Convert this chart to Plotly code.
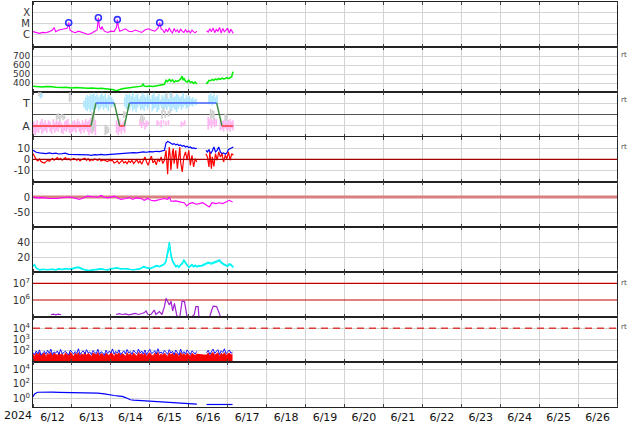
import pandas as pd
import plotly.graph_objects as go
from plotly.subplots import make_subplots

T0 = pd.Timestamp("2024-06-12 00:00")
T_END = pd.Timestamp("2024-06-27 00:00")

# ---------------- data (hours since 2024-06-12 00:00 UT) ----------------
# 1. X-ray flux (W/m2)
xray_h = [0, 2, 3.9, 6, 8, 10, 12, 13, 14, 16, 18, 20, 21, 22, 22.8, 24, 26, 28, 30, 32, 34, 36, 38, 39.5,
          40.3, 41, 42, 42.5, 43, 44, 46, 48, 50, 51.5, 52, 52.6, 53.5, 55, 57, 59, 61, 63, 65, 67, 69, 71,
          73, 75, 77, 78.1, 79,
          80, 81, 82, 83, 84, 85, 86, 87, 88, 89, 90, 91, 92, 93, 94, 95, 96, 97, 98, 99, 100, 101,
          104,
          107, 108, 109, 110, 111, 112, 113, 114, 115, 116, 117, 118, 119, 120, 121, 122, 123, 123.5]
xray_flux = [2.0e-6, 1.8e-6, 1.4e-6, 1.7e-6, 1.6e-6, 2.0e-6, 2.8e-6, 4.7e-6, 2.0e-6, 2.8e-6, 3.2e-6, 3.6e-6,
             4.0e-6, 1.3e-5, 2.8e-6, 2.0e-6, 1.6e-6, 2.2e-6, 1.7e-6, 1.4e-6, 1.1e-6, 1.4e-6, 2.0e-6, 2.8e-6,
             3.7e-5, 5.0e-6, 3.2e-6, 6.0e-6, 3.6e-6, 2.2e-6, 1.7e-6, 2.2e-6, 2.0e-6, 5.0e-6, 2.5e-5, 6.0e-6,
             2.2e-6, 2.8e-6, 3.6e-6, 2.2e-6, 2.0e-6, 2.8e-6, 2.0e-6, 1.7e-6, 2.8e-6, 3.6e-6, 2.8e-6, 2.2e-6,
             4.0e-6, 1.3e-5, 3.6e-6,
             2.8e-6, 1.6e-6, 3.4e-6, 1.9e-6, 4.2e-6, 2.2e-6, 1.5e-6, 3.8e-6, 2.0e-6, 2.9e-6, 1.6e-6, 3.5e-6,
             2.1e-6, 1.7e-6, 3.0e-6, 1.8e-6, 2.5e-6, 1.5e-6, 2.7e-6, 1.9e-6, 1.6e-6, 2.2e-6,
             None,
             2.4e-6, 1.8e-6, 3.6e-6, 2.0e-6, 4.4e-6, 1.6e-6, 3.1e-6, 2.2e-6, 4.8e-6, 1.5e-6, 3.9e-6, 1.9e-6,
             2.8e-6, 4.2e-6, 1.5e-6, 3.3e-6, 1.8e-6, 1.4e-6]
flare_h = [22.0, 40.3, 52.0, 78.1]
flare_flux = [1.3e-5, 3.7e-5, 2.5e-5, 1.3e-5]
xray_ticks = [1e-6, 1e-5, 1e-4]
xray_labels = ["C", "M", "X"]

# 2. Solar wind speed (km/s)
speed_h = [0, 2, 4, 6, 8, 10, 12, 14, 16, 18, 20, 22, 24, 26, 28, 30, 32, 34, 36, 38, 40, 42, 44, 46, 48, 50,
           51, 52, 53, 55, 57, 59, 61, 63, 65, 67, 68, 68.5, 70, 72, 74, 76, 78, 80,
           81, 82, 83, 84, 85, 86, 87, 88, 89, 90, 91, 92, 92.5, 93, 94, 95, 96, 97, 98, 99, 100, 101,
           104, 106.6, 107.5, 108.5, 109.5, 110.5, 111.5, 112.5, 113.5, 114.5, 115.5, 116.5, 117.5, 118.5,
           119.5, 120.5, 121.5, 122.5, 123, 123.5]
speed_v = [365, 360, 358, 355, 360, 362, 357, 352, 355, 350, 352, 348, 345, 350, 347, 352, 345, 342, 344, 340,
           338, 342, 336, 333, 330, 325, 312, 318, 328, 335, 342, 348, 352, 356, 360, 365, 392, 365, 360, 366,
           362, 370, 372, 378, 385, 430, 415, 440, 420, 435, 410, 425, 418, 430, 445, 475, 430, 455, 420, 410,
           430, 405, 415, 395, 410, 390, None, 395, 400, 430, 425, 440, 430, 445, 435, 450, 440, 455, 445, 450,
           460, 448, 462, 470, 510, 525]
speed_ticks = [400, 500, 600, 700]

# 3. IMF sector (T = +1, A = -1)
sector_h = [0, 35.7, 38.8, 50.1, 53.4, 56.3, 59.4, 113.2, 116.5, 123.4]
sector_v = [-1, -1, 1, 1, -1, -1, 1, 1, -1, -1]
toward_h = [4.5, 5.5, 31.5, 32.5, 33.5, 34.5, 35.5, 36.5, 37.5, 38.5, 39.5, 40.5, 41.5, 42.5, 43.5, 44.5, 45.5,
            46.5, 47.5, 48.5, 49.5, 56.5, 57.5, 58.5,
            59.5, 60.5, 61.5, 62.5, 63.5, 64.5, 65.5, 66.5, 67.5, 68.5, 69.5, 70.5, 71.5, 72.5, 73.5, 74.5, 75.5,
            76.5, 77.5, 78.5, 79.5, 80.5, 81.5, 82.5, 83.5, 84.5, 85.5, 86.5, 87.5, 88.5, 89.5, 90.5, 91.5, 92.5,
            93.5, 94.5, 95.5, 96.5, 97.5, 98.5, 99.5, 100.5,
            108.5, 109.5, 110.5, 111.5, 112.5, 113.5]
toward_lo = [1.4, 1.5, 0.6, 0.4, 0.3, 0.5, 0.2, 0.4, 0.3, 0.5, 0.6, 0.3, 0.5, 0.7, 0.4, 0.6, 0.5, 0.3, 0.8, 0.6,
             0.7, 0.7, 0.5, 0.4,
             0.4, 0.7, 0.3, 0.5, 0.2, 0.6, 0.8, 0.4, 0.5, 0.3, 0.7, 0.4, 0.6, 0.9, 0.3, 0.5, 0.6, 0.2, 0.4, 0.8,
             0.5, 0.3, 0.6, 0.4, 0.7, 0.5, 0.3, 0.6, 0.4, 0.2, 0.5, 0.7, 0.4, 0.6, 0.8, 0.5, 0.6, 0.7, 0.8, 0.7,
             0.9, 0.8,
             0.9, 1.0, 0.8, 1.1, 0.9, 1.0]
toward_hi = [1.8, 1.9, 1.2, 1.5, 1.7, 1.6, 1.8, 1.7, 1.9, 1.6, 1.8, 1.5, 1.7, 1.9, 1.6, 1.8, 1.4, 1.7, 1.6, 1.5,
             1.3, 1.5, 1.8, 1.7,
             1.8, 1.6, 1.9, 1.5, 1.7, 1.8, 1.4, 1.6, 1.9, 1.7, 1.5, 1.8, 1.6, 1.4, 1.7, 1.9, 1.5, 1.6, 1.8, 1.3,
             1.7, 1.5, 1.8, 1.6, 1.4, 1.9, 1.7, 1.5, 1.6, 1.8, 1.7, 1.5, 1.6, 1.9, 1.4, 1.7, 1.5, 1.6, 1.4, 1.5,
             1.3, 1.4,
             1.7, 1.9, 1.6, 1.8, 1.5, 1.7]
away_h = [0.5, 1.5, 2.5, 3.5, 4.5, 5.5, 6.5, 7.5, 8.5, 9.5, 10.5, 11.5, 12.5, 13.5, 14.5, 15.5, 16.5, 17.5,
          18.5, 19.5, 20.5, 21.5, 22.5, 23.5, 24.5, 25.5, 26.5, 27.5, 28.5, 29.5, 30.5, 31.5, 32.5, 33.5, 34.5,
          35.5, 36.5, 37.5, 38.5,
          51.5, 52.5, 53.5, 54.5, 55.5, 56.5,
          66, 67, 68, 69, 70, 71,
          76.5, 77.5, 79, 80.5, 82, 83.5,
          91.5, 92.5, 93.5,
          108, 109, 110, 111, 112, 113,
          115.5, 116.5, 117.5, 118.5, 119.5, 120.5, 121.5, 122.5, 123.3]
away_lo = [-1.7, -1.8, -1.5, -1.6, -1.3, -1.7, -1.5, -1.4, -1.6, -1.2, -1.5, -1.7, -1.3, -1.6, -1.4, -1.5, -1.2,
           -1.6, -1.7, -1.4, -1.5, -1.3, -1.6, -1.7, -1.5, -1.4, -1.6, -1.2, -1.5, -1.7, -1.4, -1.6, -1.3, -1.5,
           -1.8, -1.6, -1.7, -1.5, -1.8,
           -1.6, -1.8, -1.5, -1.7, -1.4, -1.6,
           -1.0, -1.2, -0.9, -1.3, -1.1, -0.9,
           -1.0, -0.9, -1.1, -0.8, -1.0, -0.9,
           -1.1, -1.0, -0.9,
           -1.3, -1.0, -1.2, -0.9, -1.1, -1.0,
           -1.4, -1.3, -1.5, -1.2, -1.4, -1.3, -1.5, -1.2, -1.4]
away_hi = [-0.6, -0.8, -0.5, -0.9, -0.6, -0.4, -0.7, -0.5, -0.8, -0.5, -0.6, -0.9, -0.4, -0.7, -0.5, -0.6, -0.3,
           -0.7, -0.9, -0.6, -0.5, -0.4, -0.8, -0.9, -0.6, -0.5, -0.7, -0.4, -0.6, -0.8, -0.5, -0.7, -0.4, -0.6,
           -0.5, -0.3, -0.6, -0.4, -0.5,
           -0.5, -0.7, -0.4, -0.8, -0.6, -0.5,
           -0.4, -0.6, -0.5, -0.7, -0.5, -0.6,
           -0.5, -0.6, -0.5, -0.5, -0.6, -0.5,
           -0.6, -0.7, -0.5,
           -0.2, -0.4, -0.3, -0.5, -0.3, -0.4,
           -0.4, -0.6, -0.5, -0.4, -0.7, -0.5, -0.4, -0.6, -0.5]
mixed_h = [3.5, 4.5, 14.5, 15.5, 16.5, 17.5, 18.5, 19.5, 22.5, 23.5, 36.5, 37.5, 44.5, 45.5, 46.5, 56, 57,
           66.5, 67.5, 68.5, 79.5, 80.5, 81.5, 82.5, 83.5, 84.5, 85.5, 109.5, 110.5, 111.5, 118.5, 119.5]
mixed_lo = [1.6, 1.7, -0.5, -0.4, -0.6, -0.3, -0.5, -0.4, 1.1, 1.2, -1.6, -1.4, -1.8, -1.7, -1.6, -0.3, -0.2,
            -0.6, -0.7, -0.5, -0.4, 0.2, -0.3, 1.4, -0.2, 0.1, 1.5, -0.4, -0.3, -0.5, -0.5, -0.6]
mixed_hi = [1.95, 1.95, 0.0, 0.1, -0.1, 0.05, 0.0, -0.1, 1.9, 1.95, 0.2, 0.3, -0.9, -1.0, -1.1, 0.3, 0.2,
            -0.1, 0.0, -0.2, 0.4, 0.6, 0.3, 1.9, 0.3, 0.5, 1.9, 0.5, 0.4, 0.3, 0.1, 0.0]

# 4. IMF Bt / Bz (nT)
bt_h = [0, 1, 2, 4, 6, 8, 10, 12, 14, 16, 18, 20, 22, 24, 26, 28, 30, 32, 34, 36, 38, 40, 42, 44, 46, 48, 50, 52,
        54, 56, 58, 60, 62, 64, 66, 68, 70, 72, 74, 76, 78, 80, 81, 82, 83, 84, 85, 86, 87, 88, 89, 90, 91, 92,
        93, 94, 95, 96, 97, 98, 99, 100, 101, 104, 106.6, 107.5, 108.5, 109.5, 110.5, 111.5, 112.5, 113.5,
        114.5, 115.5, 116.5, 117.5, 118.5, 119.5, 120.5, 121.5, 122.5, 123.5]
bt_v = [8.3, 7.1, 6.5, 5.9, 5.2, 5.2, 5.9, 5.2, 5.6, 4.9, 5.2, 5.6, 4.6, 4.6, 4.3, 4.6, 4.0, 4.3, 4.0, 3.7, 4.3,
        4.0, 4.6, 4.0, 4.3, 4.6, 4.9, 5.2, 4.9, 5.6, 5.9, 5.9, 6.2, 5.9, 6.5, 6.8, 6.5, 7.1, 6.8, 7.4, 7.1, 7.7,
        8.3, 15.1, 16.4, 15.7, 14.5, 13.9, 14.5, 13.3, 13.9, 12.7, 13.3, 12.0, 12.7, 11.4, 12.0, 10.8, 11.4,
        10.2, 10.5, 9.9, 10.2, None, 8.3, 6.8, 9.0, 5.2, 7.7, 11.4, 6.8, 8.3, 11.4, 6.8, 5.2, 5.9, 4.6, 5.9,
        9.0, 9.9, 10.8, 11.4]
bz_h = [0, 1, 2, 3, 4, 5, 6, 7, 8, 9, 10, 11, 12, 13, 14, 15, 16, 17, 18, 19, 20, 21, 22, 23, 24,
        25, 26, 27, 28, 29, 30, 31, 32, 33, 34, 35, 36, 37, 38, 39, 40, 41, 42, 43, 44, 45, 46, 47, 48, 49,
        50, 51, 52, 53, 54, 55, 56, 57, 58, 59, 60, 61, 62, 63, 64, 65, 66, 67, 68, 69, 70, 71, 72, 73, 74,
        75, 76, 77, 78, 79, 80, 81,
        82, 83, 83.5, 84, 84.5, 85, 86, 86.5, 87, 88, 89, 90, 90.5, 91, 92, 93, 94, 95, 96, 97, 98, 99, 100, 101,
        104,
        106.6, 107.5, 108.5, 109, 110, 110.5, 111.5, 112.5, 113.5, 114.5, 115.5, 116.5, 117.5, 118.5, 119.5,
        120.5, 121.5, 122.5, 123.5]
bz_v = [5.2, 2.2, -0.3, -1.5, 0.3, -2.2, -2.8, -3.4, -2.2, -0.9, -1.9, -0.3, 0.9, -0.9, 0.3, 1.5, -0.3, 0.9,
        -0.9, 0.3, 1.5, -0.3, 0.6, -0.9, 0.3,
        0.9, 0.3, -0.9, 0.3, -1.5, -0.3, 0.3, 0.9, -0.9, 0.6, -1.5, -0.3, -0.9, 0.3, -0.3, -0.9, 0.3, -1.5,
        -0.9, -0.6, -1.5, -2.2, -0.9, -1.5, -0.9,
        -3.4, -2.8, -1.5, -4.0, -2.8, -0.9, -3.4, -2.2, -4.0, -1.5, -2.8, -0.9, -4.0, -2.2, -0.3, -3.4, -1.5,
        -4.6, -0.9, 2.2, -2.5, -5.6, -0.3, 2.8, -3.4, -0.9, -5.2, 0.3, -2.2, 2.2, -4.0, -0.9,
        8.3, -13.9, 2.2, 11.4, 3.7, -10.2, 6.8, 9.9, -4.0, 8.3, -8.6, 5.2, 11.4, -2.5, -11.7, 2.2, 6.8, -0.9,
        8.3, -5.6, 3.7, -7.1, 0.6, -2.5,
        None,
        5.2, 2.2, -7.1, 6.8, -8.6, 2.2, -6.5, 5.2, -0.9, 6.8, 2.2, 5.2, -2.5, 3.7, 0.6, 6.8, -0.9, 5.2, 3.7]
imf_ticks = [-10, 0, 10]
imf_zero = 0

# 5. Dst (nT)
dst_h = [0, 1.8, 5.9, 10, 14.2, 18.3, 22.4, 26.5, 28.5, 30.6, 33.7, 36.8, 39.9, 42, 44, 46, 48.1, 50.2, 52.2,
         54.2, 57.3, 59.4, 61.4, 63.5, 66.6, 68.6, 70.7, 72.7, 74.8, 76.8, 78.9, 81, 83, 84, 85.1, 88.1, 91.2,
         93.3, 94.7, 96.4, 98.4, 100.5, 102.5, 104.6, 106.6, 108.7, 110.4, 112.8, 114.8, 116.9, 119, 121, 123]
dst_v = [0, -3, -2, -5, -5, -3, 0, -5, -8, -4, 3, 1, -1, 5, -1, -3, 0, 3, -3, -8, -5, -2, -8, -3, -5, -11, -5,
         -11, -13, -11, -8, -5, -8, 0, -14, -13, -17, -19, -30, -22, -19, -24, -22, -19, -26, -33, -19, -22, -19,
         -22, -17, -11, -17]
dst_ticks = [-50, 0]
dst_zero = 0

# 6. Plasma (two series)
pl_h = [0, 1, 2, 4, 6, 8, 10, 12, 14, 16, 18, 20, 22, 24, 26, 28, 30, 32, 34, 36, 38, 40, 42, 44, 46, 48, 50,
        52, 54, 56, 58, 60, 62, 64, 66, 68, 70, 72, 74, 76, 78, 80, 81, 82, 83, 83.5, 84, 84.5, 85, 86, 87, 88,
        89, 90, 91, 92, 93, 94, 95, 96, 97, 98, 99, 100, 101, 102, 104, 106, 108, 110, 112, 114, 115, 116, 118,
        120, 121, 122, 123.5]
pl_a = [8.9, 10.2, 5.8, 3.1, 4.0, 3.1, 3.6, 4.0, 3.1, 4.4, 3.6, 4.9, 4.0, 4.4, 5.8, 6.7, 4.4, 3.1, 2.2, 2.7,
        3.6, 4.0, 4.4, 3.6, 3.1, 4.4, 4.9, 5.8, 4.4, 4.9, 4.4, 3.6, 3.1, 4.0, 4.4, 7.6, 6.7, 4.9, 6.7, 8.9, 7.6,
        10.2, 11.1, 15.6, 26.7, 33.3, 40.0, 35.6, 24.4, 15.6, 11.1, 7.6, 8.9, 6.7, 10.2, 12.0, 16.4, 13.3, 8.9,
        6.7, 8.4, 10.2, 7.6, 9.3, 7.6, 8.4, 8.9, 11.1, 13.3, 12.0, 13.8, 15.6, 16.4, 13.3, 10.2, 8.4, 11.1,
        10.2, 6.7]
pl_b = [7.5, 9.0, 5.0, 2.5, 3.2, 2.6, 3.0, 3.4, 2.5, 3.8, 3.0, 4.2, 3.5, 3.6, 5.0, 5.8, 3.8, 2.6, 1.8, 2.2,
        3.0, 3.5, 3.8, 3.1, 2.6, 3.7, 4.2, 5.0, 3.8, 4.3, 3.7, 3.0, 2.7, 3.4, 3.8, 6.6, 5.8, 4.2, 5.9, 7.8, 6.7,
        9.0, 9.8, 13.5, 22.0, 28.5, 33.0, 30.0, 21.0, 13.8, 9.8, 6.8, 7.8, 5.9, 9.0, 10.5, 14.5, 11.8, 7.8,
        5.9, 7.4, 9.0, 6.7, 8.2, 6.7, 7.5, 7.8, 9.8, 11.8, 10.6, 12.2, 13.8, 14.6, 11.8, 9.0, 7.4, 9.8, 9.0,
        5.9]
pl_ticks = [20, 40]

# 7. Electron flux
elec_h = [11.1, 12.5, 14, 15.5, 17.3, 20, 51.2, 53, 55, 57, 59, 61, 63, 65, 67, 68.5, 69.7, 70.7, 72.7, 74.8,
          75.8, 77.9, 79.5, 81, 82, 83, 84.1, 85.1, 86.1, 87.2, 88.6, 90.3, 91.9, 93.4, 94.8, 96, 99.4, 100.4,
          101.8, 102.4, 108.5, 110, 111.1, 113.2, 114.2, 115.2, 116.2]
elec_v = [1.3e5, 1.4e5, 1.3e5, 1.4e5, 1.3e5, None, 1.35e5, 1.5e5, 1.35e5, 1.45e5, 1.3e5, 1.4e5, 1.55e5, 1.35e5,
          1.5e5, 1.7e5, 2.2e5, 1.4e5, 1.35e5, 2.5e5, 1.35e5, 2.0e5, 1.35e5, 4.0e5, 1.26e6, 7.2e5, 5.0e5, 8.5e5,
          2.2e5, 6.3e5, 1.2e5, 7e4, 8.5e5, 8.0e5, 1.2e5, 7e4, 1.3e5, 4.0e5, 4.0e5, 7e4, 7e4, 2.2e5, 4.3e5,
          4.0e5, 2.2e5, 1.5e5, 7e4]
elec_alerts = [1e6, 1e7]
elec_ticks = [1e6, 1e7]

# 8. Proton flux (hourly samples)
prot_h = list(range(0, 102)) + [104] + list(range(107, 124))
prot_red = [55, 30, 62, 40, 70, 35, 48, 66, 28, 58, 45, 72, 33, 60, 50, 38, 68, 42, 57, 31,
            64, 47, 36, 70, 52, 29, 61, 44, 67, 34, 55, 40, 73, 37, 59, 46, 30, 65, 50, 41,
            69, 35, 56, 48, 32, 63, 45, 38, 71, 53, 29, 60, 42, 66, 36, 54, 47, 31, 68, 40,
            58, 35, 62, 49, 33, 70, 44, 57, 38, 64, 30, 52, 67, 41, 35, 60, 46, 72, 34, 55,
            39, 63, 48, 31, 66, 43, 58, 37, 61, 50, 29, 69, 41, 56, 36, 64, 45, 33, 60, 47,
            38, 55, None,
            44, 62, 35, 57, 70, 40, 52, 66, 31, 59, 45, 68, 37, 55, 63, 42, 50]
prot_blue = [70, 45, 95, 52, 120, 40, 65, 88, 50, 110, 58, 140, 44, 78, 62, 95, 48, 130, 55, 72,
             90, 60, 42, 115, 68, 50, 85, 57, 150, 46, 75, 98, 52, 125, 63, 80, 45, 105, 70, 55,
             135, 48, 82, 66, 40, 110, 58, 92, 62, 145, 50, 88, 60, 120, 45, 76, 98, 52, 128, 64,
             85, 48, 112, 70, 55, 140, 62, 95, 50, 118, 44, 80, 135, 58, 66, 102, 52, 150, 60, 78,
             54, 108, 70, 48, 125, 62, 90, 45, 115, 68, 42, 138, 56, 84, 50, 120, 66, 46, 98, 72,
             52, 88, None,
             65, 110, 48, 95, 140, 58, 80, 125, 46, 100, 70, 150, 55, 85, 118, 60, 76]
prot_alert = 1e4
prot_ticks = [1e2, 1e3, 1e4]

# 9. Bottom panel flux
hp_h = [0, 1, 2.8, 5, 8, 12, 16, 20, 24, 28, 32, 36, 40, 44, 47, 50, 53, 55, 57, 58.3, 60, 62, 66, 70, 75, 80,
        85, 90, 95, 98, 101, 104, 107, 112, 118, 123]
hp_v = [1.6, 4.0, 6.8, 7.1, 7.6, 7.1, 6.6, 6.3, 6.0, 6.3, 5.6, 5.2, 5.0, 4.0, 2.8, 2.4, 2.0, 1.8, 1.26, 0.9,
        0.63, 0.56, 0.5, 0.45, 0.38, 0.32, 0.26, 0.21, 0.18, 0.16, 0.16, None, 0.14, 0.14, 0.14, 0.14]
hp_ticks = [1, 1e2, 1e4]


def when(hours):
    return [T0 + pd.Timedelta(hours=h) for h in hours]


def streaks(hours, lo, hi):
    xs, ys = [], []
    for h, a, b in zip(hours, lo, hi):
        t = T0 + pd.Timedelta(hours=h)
        xs += [t, t, None]
        ys += [a, b, None]
    return xs, ys


def sup(v):
    import math
    return "10<sup>%d</sup>" % round(math.log10(v))


fig = make_subplots(rows=9, cols=1, shared_xaxes=True, vertical_spacing=0)

# 1 X-ray
fig.add_trace(go.Scatter(x=when(xray_h), y=xray_flux, mode="lines",
                         line=dict(color="#ff00ff", width=1.1)), row=1, col=1)
fig.add_trace(go.Scatter(x=when(flare_h), y=flare_flux, mode="markers",
                         marker=dict(symbol="circle-open", color="#3030ff", size=6,
                                     line=dict(width=1.6, color="#3030ff"))), row=1, col=1)
# 2 speed
fig.add_trace(go.Scatter(x=when(speed_h), y=speed_v, mode="lines",
                         line=dict(color="#00ee00", width=1.5)), row=2, col=1)
# 3 sector
for hh, lo, hi, col in [(away_h, away_lo, away_hi, "#ffb6f2"),
                        (toward_h, toward_lo, toward_hi, "#ace6ff"),
                        (mixed_h, mixed_lo, mixed_hi, "#cfcfcf")]:
    sx, sy = streaks(hh, lo, hi)
    fig.add_trace(go.Scatter(x=sx, y=sy, mode="lines", line=dict(color=col, width=1.6)), row=3, col=1)
for i in range(len(sector_h) - 1):
    a, b = sector_v[i], sector_v[i + 1]
    col = "#ff3030" if (a < 0 and b < 0) else ("#4466ff" if (a > 0 and b > 0) else "#3c8a3c")
    fig.add_trace(go.Scatter(x=when(sector_h[i:i + 2]), y=sector_v[i:i + 2], mode="lines",
                             line=dict(color=col, width=1.4)), row=3, col=1)
# 4 IMF
fig.add_trace(go.Scatter(x=when(bt_h), y=bt_v, mode="lines",
                         line=dict(color="#0000ff", width=1.2)), row=4, col=1)
fig.add_trace(go.Scatter(x=when(bz_h), y=bz_v, mode="lines",
                         line=dict(color="#ff0000", width=1.2)), row=4, col=1)
fig.add_trace(go.Scatter(x=[T0, T_END], y=[imf_zero, imf_zero], mode="lines",
                         line=dict(color="#a00000", width=1.3)), row=4, col=1)
# 5 Dst
fig.add_trace(go.Scatter(x=[T0, T_END], y=[dst_zero, dst_zero], mode="lines",
                         line=dict(color="#d88080", width=3)), row=5, col=1)
fig.add_trace(go.Scatter(x=when(dst_h), y=dst_v, mode="lines",
                         line=dict(color="#ff00ff", width=1.1)), row=5, col=1)
# 6 plasma
fig.add_trace(go.Scatter(x=when(pl_h), y=pl_b, mode="lines",
                         line=dict(color="#00ffff", width=1.2)), row=6, col=1)
fig.add_trace(go.Scatter(x=when(pl_h), y=pl_a, mode="lines",
                         line=dict(color="#00f0f0", width=1.2)), row=6, col=1)
# 7 electrons
for lvl in elec_alerts:
    fig.add_trace(go.Scatter(x=[T0, T_END], y=[lvl, lvl], mode="lines",
                             line=dict(color="#c00000", width=1.2)), row=7, col=1)
fig.add_trace(go.Scatter(x=when(elec_h), y=elec_v, mode="lines",
                         line=dict(color="#a020d0", width=1.2)), row=7, col=1)
# 8 protons
fig.add_trace(go.Scatter(x=[T0, T_END], y=[prot_alert, prot_alert], mode="lines",
                         line=dict(color="#dd3a3a", width=1.6, dash="7px,5px")), row=8, col=1)
fig.add_trace(go.Scatter(x=when(prot_h), y=prot_red, mode="lines", fill="tozeroy",
                         fillcolor="#ff0000", line=dict(color="#ff0000", width=0.8)), row=8, col=1)
fig.add_trace(go.Scatter(x=when(prot_h), y=prot_blue, mode="lines",
                         line=dict(color="#0000ff", width=0.9)), row=8, col=1)
# 9 bottom
fig.add_trace(go.Scatter(x=when(hp_h), y=hp_v, mode="lines",
                         line=dict(color="#0000ff", width=1.2)), row=9, col=1)

grid = "#d4d4d4"
tickfont = dict(family="DejaVu Sans", size=10, color="#333")
fig.update_xaxes(type="date", range=[T0, T_END], tick0=T0, dtick=86400000, tickformat="%-m/%-d",
                 ticklabelmode="period", showgrid=True, gridcolor=grid, gridwidth=1,
                 ticks="inside", ticklen=3, tickcolor="#444", automargin=False,
                 showline=True, linewidth=1.2, linecolor="#222", mirror="ticks",
                 tickfont=dict(family="DejaVu Sans", size=11, color="#111"), zeroline=False)
fig.update_yaxes(showgrid=True, gridcolor=grid, gridwidth=1, showline=True, linewidth=1,
                 linecolor="#222", mirror=True, zeroline=False, tickfont=tickfont, ticks="",
                 automargin=False)

fig.update_yaxes(row=1, col=1, type="log", range=[-7.1, -3], tickvals=xray_ticks, ticktext=xray_labels,
                 tickfont=dict(family="DejaVu Sans", size=10, color="#333"))
fig.update_yaxes(row=2, col=1, range=[300, 800], tickvals=speed_ticks,
                 tickfont=dict(family="DejaVu Sans", size=9, color="#333"))
fig.update_yaxes(row=3, col=1, range=[-1.96, 1.96], tickvals=[-1, 1], ticktext=["A", "T"],
                 zeroline=True, zerolinecolor="#555", zerolinewidth=1,
                 tickfont=dict(family="DejaVu Sans", size=11, color="#333"))
fig.update_yaxes(row=4, col=1, range=[-21, 20.6], tickvals=imf_ticks, ticktext=[str(v) for v in imf_ticks])
fig.update_yaxes(row=5, col=1, range=[-100, 50], tickvals=dst_ticks, ticktext=[str(v) for v in dst_ticks])
fig.update_yaxes(row=6, col=1, range=[0, 60], tickvals=pl_ticks)
fig.update_yaxes(row=7, col=1, type="log", range=[4.98, 7.68], tickvals=elec_ticks,
                 ticktext=[sup(v) for v in elec_ticks], showgrid=False)
fig.update_yaxes(row=8, col=1, type="log", range=[1, 5], tickvals=prot_ticks,
                 ticktext=[sup(v) for v in prot_ticks])
fig.update_yaxes(row=9, col=1, type="log", range=[-1.2, 5], tickvals=hp_ticks,
                 ticktext=[sup(v) for v in hp_ticks])

W, H = 634, 424
L, R, TOP, B = 33, 17, 2, 17
ph = H - TOP - B
pw = W - L - R
ann = [dict(text="2024", x=(18 - L) / pw, y=1 - (416 - TOP) / ph, xref="paper", yref="paper",
            xanchor="center", yanchor="middle",
            showarrow=False, font=dict(family="DejaVu Sans", size=11, color="#111"))]
for py in [55, 100, 147, 283, 327]:
    ann.append(dict(text="rt", x=(624 - L) / pw, y=1 - (py - TOP) / ph, xref="paper", yref="paper",
                    xanchor="center", yanchor="middle",
                    showarrow=False, font=dict(family="DejaVu Sans", size=7, color="#444")))

fig.update_layout(width=W, height=H, autosize=False, margin=dict(l=L, r=R, t=TOP, b=B),
                  showlegend=False, plot_bgcolor="white", paper_bgcolor="white", annotations=ann)
fig.write_html("out.html", config={"displayModeBar": False},
               post_script="document.body.style.margin='0px';document.body.style.overflow='hidden';")
